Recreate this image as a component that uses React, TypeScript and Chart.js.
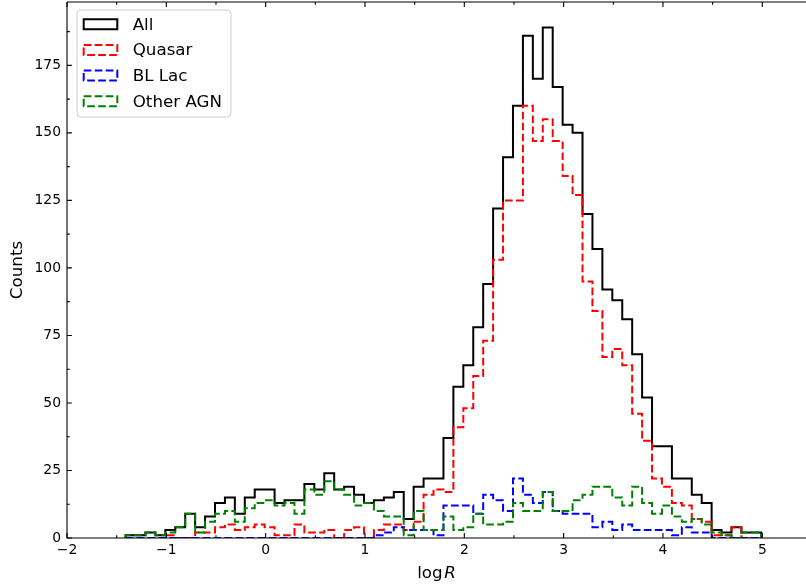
import React, { useEffect, useRef } from 'react';
import { Chart, registerables } from 'chart.js';

Chart.register(...registerables);

// ---- data ----
const BIN_START = -1.41;
const BIN_WIDTH = 0.1;

const seriesLabels = ['All', 'Quasar', 'BL Lac', 'Other AGN'];

const allCounts = [
  1, 1, 2, 1, 3, 4, 9, 4, 8, 13,
  15, 9, 15, 18, 18, 13, 14, 14, 20, 18,
  24, 18, 19, 16, 13, 14, 15, 17, 7, 19,
  22, 22, 37, 56, 64, 78, 94, 122, 141, 160,
  186, 170, 189, 167, 153, 150, 120, 107, 92, 88,
  81, 68, 52, 34, 34, 22, 22, 16, 13, 3,
  2, 4, 2, 2,
];
const quasarCounts = [
  0, 0, 0, 0, 1, 0, 0, 2, 2, 4,
  5, 3, 4, 5, 4, 1, 1, 5, 2, 2,
  3, 0, 3, 4, 0, 3, 5, 5, 3, 6,
  16, 18, 17, 41, 48, 60, 73, 103, 125, 125,
  160, 147, 155, 147, 134, 127, 95, 84, 67, 70,
  64, 46, 36, 22, 19, 13, 12, 7, 6, 1,
  1, 4, 0, 0,
];
const blLacCounts = [
  0, 0, 0, 0, 0, 0, 0, 0, 0, 0,
  0, 0, 0, 0, 0, 0, 0, 0, 0, 0,
  0, 0, 0, 0, 0, 1, 2, 4, 3, 3,
  3, 1, 12, 12, 12, 9, 16, 14, 10, 22,
  16, 13, 17, 10, 9, 9, 9, 4, 6, 3,
  5, 3, 3, 3, 3, 1, 4, 2, 2, 0,
  0, 0, 0, 0,
];
const otherCounts = [
  1, 1, 2, 1, 2, 4, 9, 2, 6, 9,
  10, 6, 11, 13, 14, 12, 13, 9, 18, 16,
  21, 18, 16, 12, 13, 10, 8, 8, 1, 10,
  3, 3, 8, 3, 4, 9, 5, 5, 6, 13,
  10, 10, 17, 10, 10, 14, 16, 19, 19, 15,
  12, 19, 13, 9, 12, 8, 6, 7, 5, 2,
  1, 0, 2, 2,
];

const xMajorTicks = [-2, -1, 0, 1, 2, 3, 4, 5];
const xMinorTicks = [-1.5, -0.5, 0.5, 1.5, 2.5, 3.5, 4.5];
const yMajorTicks = [0, 25, 50, 75, 100, 125, 150, 175];
const yMinorTicks = [12.5, 37.5, 62.5, 87.5, 112.5, 137.5, 162.5, 187.5];

const X_MIN = -2;
const X_MAX = 5.44;
const Y_MIN = 0;
const Y_MAX = 198.45;

const FONT = "'DejaVu Sans', 'Liberation Sans', sans-serif";

function stepPoints(counts: number[]) {
  const pts = [{ x: BIN_START, y: 0 }];
  counts.forEach((c, i) => pts.push({ x: BIN_START + i * BIN_WIDTH, y: c }));
  pts.push({ x: BIN_START + counts.length * BIN_WIDTH, y: 0 });
  return pts;
}

const fmt = (v: number) => (v < 0 ? '\u2212' + Math.abs(v) : String(v));

const mplPlugin = {
  id: 'mplFrame',
  afterDatasetsDraw(chart: any) {
    const { ctx, chartArea: a, scales } = chart;
    const x = scales.x;
    const y = scales.y;
    ctx.save();
    ctx.strokeStyle = '#000';
    ctx.lineWidth = 1.1;
    ctx.setLineDash([]);
    ctx.beginPath();
    ctx.moveTo(a.left, a.top);
    ctx.lineTo(a.left, a.bottom);
    ctx.lineTo(a.right, a.bottom);
    ctx.moveTo(a.left, a.top);
    ctx.lineTo(a.right, a.top);
    ctx.stroke();
    ctx.beginPath();
    const major = 4.9;
    const minor = 2.8;
    xMajorTicks.forEach((v) => {
      const px = x.getPixelForValue(v);
      ctx.moveTo(px, a.bottom);
      ctx.lineTo(px, a.bottom - major);
      ctx.moveTo(px, a.top);
      ctx.lineTo(px, a.top + major);
    });
    xMinorTicks.forEach((v) => {
      const px = x.getPixelForValue(v);
      ctx.moveTo(px, a.bottom);
      ctx.lineTo(px, a.bottom - minor);
      ctx.moveTo(px, a.top);
      ctx.lineTo(px, a.top + minor);
    });
    yMajorTicks.forEach((v) => {
      const py = y.getPixelForValue(v);
      ctx.moveTo(a.left, py);
      ctx.lineTo(a.left + major, py);
    });
    yMinorTicks.forEach((v) => {
      const py = y.getPixelForValue(v);
      if (py < a.top) return;
      ctx.moveTo(a.left, py);
      ctx.lineTo(a.left + minor, py);
    });
    ctx.stroke();
    ctx.restore();
  },
  afterDraw(chart: any) {
    const { ctx, chartArea: a } = chart;
    ctx.save();
    // x axis title: log R (R italic)
    const size = 16.7;
    ctx.fillStyle = '#000';
    ctx.textBaseline = 'alphabetic';
    ctx.font = `${size}px ${FONT}`;
    const w1 = ctx.measureText('log').width;
    ctx.font = `italic ${size}px ${FONT}`;
    const w2 = ctx.measureText('R').width;
    const gap = 1.5;
    const total = w1 + gap + w2;
    const cx = (a.left + a.right) / 2;
    const by = 578;
    ctx.textAlign = 'left';
    ctx.font = `${size}px ${FONT}`;
    ctx.fillText('log', cx - total / 2, by);
    ctx.font = `italic ${size}px ${FONT}`;
    ctx.fillText('R', cx - total / 2 + w1 + gap, by);

    // legend
    const bx = 77, byTop = 10, bw = 154, bh = 107, r = 4;
    ctx.beginPath();
    ctx.moveTo(bx + r, byTop);
    ctx.lineTo(bx + bw - r, byTop);
    ctx.arcTo(bx + bw, byTop, bx + bw, byTop + r, r);
    ctx.lineTo(bx + bw, byTop + bh - r);
    ctx.arcTo(bx + bw, byTop + bh, bx + bw - r, byTop + bh, r);
    ctx.lineTo(bx + r, byTop + bh);
    ctx.arcTo(bx, byTop + bh, bx, byTop + bh - r, r);
    ctx.lineTo(bx, byTop + r);
    ctx.arcTo(bx, byTop, bx + r, byTop, r);
    ctx.closePath();
    ctx.fillStyle = 'rgba(255,255,255,0.8)';
    ctx.fill();
    ctx.strokeStyle = '#cccccc';
    ctx.lineWidth = 1;
    ctx.stroke();

    const datasets = chart.data.datasets;
    datasets.forEach((ds: any, i: number) => {
      const cy = 24.3 + i * 25.65;
      ctx.beginPath();
      ctx.rect(83.7, cy - 5, 33.6, 10);
      ctx.strokeStyle = ds.borderColor;
      ctx.lineWidth = 2;
      ctx.lineJoin = 'miter';
      ctx.setLineDash(ds.borderDash || []);
      ctx.stroke();
      ctx.setLineDash([]);
      ctx.fillStyle = '#000';
      ctx.font = `${size}px ${FONT}`;
      ctx.textAlign = 'left';
      ctx.textBaseline = 'middle';
      ctx.fillText(ds.label, 132.7, cy + 1);
    });
    ctx.restore();
  },
};

export default function App() {
  const canvasRef = useRef<HTMLCanvasElement | null>(null);

  useEffect(() => {
    document.body.style.margin = '0';
    document.body.style.overflow = 'hidden';
    const canvas = canvasRef.current;
    if (!canvas) return;
    const dash = [7.7, 3.3];
    const chart = new Chart(canvas, {
      type: 'line',
      data: {
        datasets: [
          {
            label: seriesLabels[0],
            data: stepPoints(allCounts),
            borderColor: '#000000',
            borderWidth: 2,
            borderDash: [],
            order: 3,
          },
          {
            label: seriesLabels[1],
            data: stepPoints(quasarCounts),
            borderColor: '#ff0000',
            borderWidth: 2,
            borderDash: dash,
            order: 2,
          },
          {
            label: seriesLabels[2],
            data: stepPoints(blLacCounts),
            borderColor: '#0000ff',
            borderWidth: 2,
            borderDash: dash,
            order: 1,
          },
          {
            label: seriesLabels[3],
            data: stepPoints(otherCounts),
            borderColor: '#008000',
            borderWidth: 2,
            borderDash: dash,
            order: 0,
          },
        ].map((d) => ({
          ...d,
          stepped: true,
          fill: false,
          pointRadius: 0,
          pointHoverRadius: 0,
          tension: 0,
          borderJoinStyle: 'miter',
          borderCapStyle: 'butt',
        })) as any,
      },
      options: {
        animation: false,
        responsive: false,
        maintainAspectRatio: false,
        events: [],
        layout: { padding: { top: 2, right: 0, left: 0, bottom: 0 } },
        plugins: {
          legend: { display: false },
          tooltip: { enabled: false },
        },
        scales: {
          x: {
            type: 'linear',
            min: X_MIN,
            max: X_MAX,
            grid: { display: false, drawTicks: false },
            border: { display: false },
            afterBuildTicks: (scale: any) => {
              scale.ticks = xMajorTicks.map((v) => ({ value: v }));
            },
            afterFit: (scale: any) => {
              scale.height = 48;
              scale.paddingLeft = 0;
              scale.paddingRight = 0;
            },
            ticks: {
              autoSkip: false,
              maxRotation: 0,
              padding: 4,
              color: '#000',
              font: { family: FONT, size: 13.9 },
              callback: (v: any) => fmt(Number(v)),
            },
          },
          y: {
            type: 'linear',
            min: Y_MIN,
            max: Y_MAX,
            grid: { display: false, drawTicks: false },
            border: { display: false },
            afterBuildTicks: (scale: any) => {
              scale.ticks = yMajorTicks.map((v) => ({ value: v }));
            },
            afterFit: (scale: any) => {
              scale.width = 67;
              scale.paddingTop = 0;
              scale.paddingBottom = 0;
            },
            title: {
              display: true,
              text: 'Counts',
              color: '#000',
              font: { family: FONT, size: 16.7 },
              padding: { top: 8, bottom: 0 },
            },
            ticks: {
              autoSkip: false,
              padding: 6,
              color: '#000',
              font: { family: FONT, size: 13.9 },
              callback: (v: any) => fmt(Number(v)),
            },
          },
        },
      } as any,
      plugins: [mplPlugin],
    });
    return () => chart.destroy();
  }, []);

  return (
    <div style={{ width: 806, height: 586, position: 'relative' }}>
      <canvas ref={canvasRef} width={806} height={586} style={{ display: 'block', width: 806, height: 586 }} />
    </div>
  );
}
